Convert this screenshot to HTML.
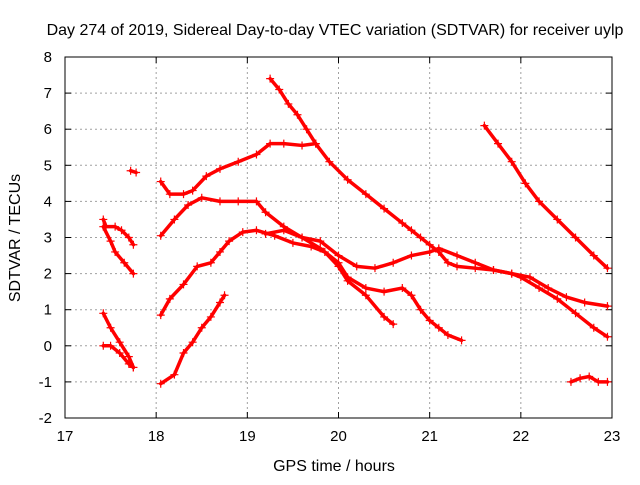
<!DOCTYPE html>
<html><head><meta charset="utf-8"><style>
body{margin:0;background:#fff}
svg text{font-family:"Liberation Sans",sans-serif;font-size:15px;fill:#000}
</style></head><body>
<svg width="640" height="480" xmlns="http://www.w3.org/2000/svg">
<rect width="640" height="480" fill="#fff"/>
<text x="335" y="35" text-anchor="middle" style="font-size:16px">Day 274 of 2019, Sidereal Day-to-day VTEC variation (SDTVAR) for receiver uylp</text>
<text x="334" y="471" text-anchor="middle" style="font-size:16px">GPS time / hours</text>
<text transform="translate(20,238) rotate(-90)" text-anchor="middle" style="font-size:16px">SDTVAR / TECUs</text>
<g id="grid"></g>
<g id="axes"></g>
<g id="marks"></g>
</svg>
<script>
const xTicks=[17,18,19,20,21,22,23];
const yTicks=[-2,-1,0,1,2,3,4,5,6,7,8];
const t1=[[17.42,3.5],[17.45,3.3],[17.55,3.3],[17.62,3.2],[17.7,3.0],[17.75,2.8]];
const t2=[[17.42,3.3],[17.5,2.9],[17.55,2.6],[17.65,2.3],[17.75,2.0]];
const t3=[[17.42,0.9],[17.5,0.5],[17.6,0.1],[17.7,-0.3],[17.75,-0.6]];
const t4=[[17.42,0.0],[17.5,0.0],[17.6,-0.2],[17.7,-0.5],[17.75,-0.6]];
const t5=[[17.72,4.85],[17.78,4.8]];
const t6=[[18.05,-1.05],[18.2,-0.8],[18.3,-0.2],[18.4,0.1],[18.5,0.5],[18.6,0.8],[18.7,1.2],[18.75,1.4]];
const t7=[[18.05,0.85],[18.15,1.3],[18.3,1.7],[18.45,2.2],[18.6,2.3],[18.7,2.6],[18.8,2.9],[18.95,3.15],[19.1,3.2],[19.3,3.05],[19.5,2.85],[19.7,2.75],[19.85,2.6],[20.0,2.2],[20.1,1.8],[20.3,1.4],[20.5,0.8],[20.6,0.6]];
const t8=[[18.05,3.05],[18.2,3.5],[18.35,3.9],[18.5,4.1],[18.7,4.0],[18.9,4.0],[19.1,4.0],[19.2,3.7],[19.4,3.3],[19.6,3.0],[19.8,2.7],[20.0,2.3],[20.1,1.9],[20.3,1.6],[20.5,1.5],[20.7,1.6],[20.8,1.4],[20.9,1.0],[21.0,0.7],[21.1,0.5],[21.2,0.3],[21.35,0.15]];
const t9=[[18.05,4.55],[18.15,4.2],[18.3,4.2],[18.4,4.3],[18.55,4.7],[18.7,4.9],[18.9,5.1],[19.1,5.3],[19.25,5.6],[19.4,5.6],[19.6,5.55],[19.75,5.6]];
const t10=[[19.25,7.4],[19.35,7.1],[19.45,6.7],[19.55,6.4],[19.65,6.0],[19.75,5.6],[19.9,5.1],[20.1,4.6],[20.3,4.2],[20.5,3.8],[20.7,3.4],[20.8,3.2],[20.9,3.0],[21.0,2.8],[21.1,2.6],[21.2,2.3],[21.3,2.2],[21.5,2.15],[21.7,2.1],[21.9,2.0],[22.0,1.9],[22.2,1.6],[22.4,1.3],[22.6,0.9],[22.8,0.5],[22.95,0.25]];
const t11=[[19.2,3.1],[19.4,3.2],[19.6,3.0],[19.8,2.9],[20.0,2.5],[20.2,2.2],[20.4,2.15],[20.6,2.3],[20.8,2.5],[21.0,2.6],[21.1,2.7],[21.3,2.5],[21.5,2.3],[21.7,2.1],[21.9,2.0],[22.1,1.9],[22.3,1.6],[22.5,1.35],[22.7,1.2],[22.95,1.1]];
const t12=[[21.6,6.1],[21.75,5.6],[21.9,5.1],[22.05,4.5],[22.2,4.0],[22.4,3.5],[22.6,3.0],[22.8,2.5],[22.95,2.15]];
const t13=[[22.55,-1.0],[22.65,-0.9],[22.75,-0.85],[22.85,-1.0],[22.95,-1.0]];
const tracks=[t1,t2,t3,t4,t5,t6,t7,t8,t9,t10,t11,t12,t13];

const L=65,R=612,T=57,B=418;
const xs=v=>L+(v-17)/6*(R-L);
const ys=v=>B-(v+2)/10*(B-T);
const NS="http://www.w3.org/2000/svg";
function mk(tag,attrs,parent){const e=document.createElementNS(NS,tag);for(const k in attrs)e.setAttribute(k,attrs[k]);parent.appendChild(e);return e;}
const grid=document.getElementById('grid'),axes=document.getElementById('axes'),marks=document.getElementById('marks');
xTicks.forEach(v=>{
  const x=xs(v);
  if(v>17&&v<23){const g=mk('line',{x1:x,x2:x,y1:T,y2:B,stroke:'#a0a0a0','stroke-dasharray':'2,3','stroke-width':1},grid);
  
  }
  mk('line',{x1:x,x2:x,y1:B,y2:B-6,stroke:'#000'},axes);
  mk('line',{x1:x,x2:x,y1:T,y2:T+6,stroke:'#000'},axes);
  const t=mk('text',{x:x,y:B+23,'text-anchor':'middle'},axes);t.textContent=v;
  
  
});
yTicks.forEach(v=>{
  const y=ys(v);
  if(v>-2&&v<8){const g=mk('line',{x1:L,x2:R,y1:y,y2:y,stroke:'#a0a0a0','stroke-dasharray':'2,3','stroke-width':1},grid);
  
  }
  mk('line',{x1:L,x2:L+6,y1:y,y2:y,stroke:'#000'},axes);
  mk('line',{x1:R,x2:R-6,y1:y,y2:y,stroke:'#000'},axes);
  const t=mk('text',{x:L-13,y:y+5,'text-anchor':'end'},axes);t.textContent=v;
  
  
});
mk('rect',{x:L,y:T,width:R-L,height:B-T,fill:'none',stroke:'#000'},axes);
tracks.forEach((tr,i)=>{
  const p=mk('polyline',{points:tr.map(d=>xs(d[0])+','+ys(d[1])).join(' '),fill:'none',stroke:'#f00','stroke-width':3.5,'stroke-linejoin':'round','stroke-linecap':'round'},marks);
  
  
  tr.forEach(d=>{
    const x=xs(d[0]),y=ys(d[1]);
    const m=mk('path',{d:`M${x-4},${y}H${x+4}M${x},${y-4}V${y+4}`,stroke:'#f00','stroke-width':1.2},marks);
    
    
  });
});
</script>
</body></html>
